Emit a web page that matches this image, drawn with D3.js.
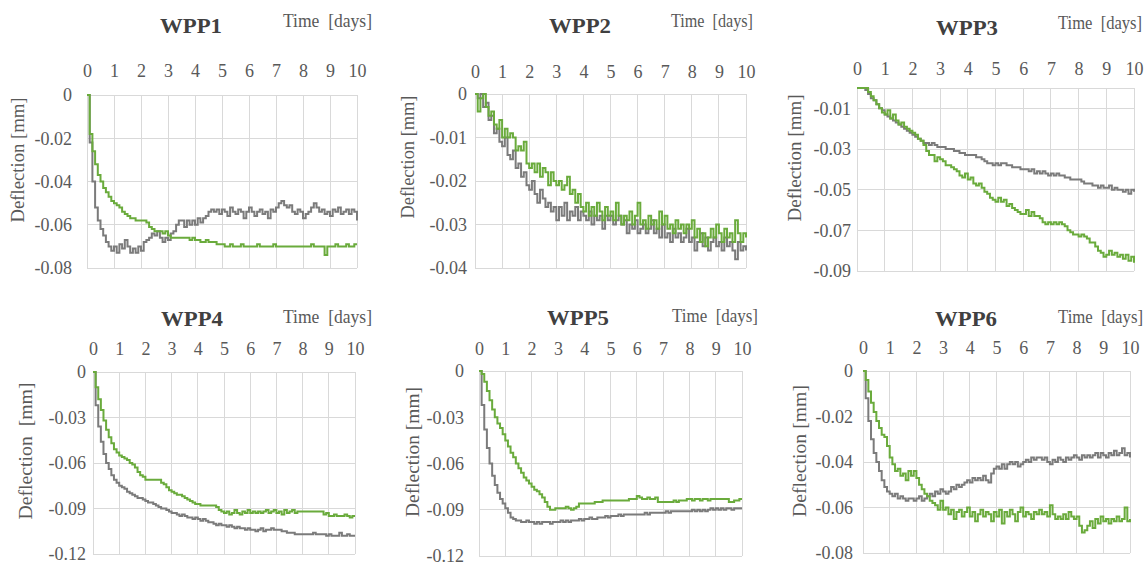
<!DOCTYPE html>
<html><head><meta charset="utf-8">
<script src="https://cdn.jsdelivr.net/npm/d3@7"></script>
<style>
body{margin:0;background:#fff}
svg{display:block}
</style>
</head><body>
<svg id="c" width="1148" height="565"></svg>
<script>
// ---------------- DATA ----------------
const days = [0,.1,.2,.3,.4,.5,.6,.7,.8,.9,1,1.1,1.2,1.3,1.4,1.5,1.6,1.7,1.8,1.9,2,2.1,2.2,2.3,2.4,2.5,2.6,2.7,2.8,2.9,
3,3.1,3.2,3.3,3.4,3.5,3.6,3.7,3.8,3.9,4,4.1,4.2,4.3,4.4,4.5,4.6,4.7,4.8,4.9,5,5.1,5.2,5.3,5.4,5.5,5.6,5.7,5.8,5.9,
6,6.1,6.2,6.3,6.4,6.5,6.6,6.7,6.8,6.9,7,7.1,7.2,7.3,7.4,7.5,7.6,7.7,7.8,7.9,8,8.1,8.2,8.3,8.4,8.5,8.6,8.7,8.8,8.9,
9,9.1,9.2,9.3,9.4,9.5,9.6,9.7,9.8,9.9,10];
const xTicks = [0,1,2,3,4,5,6,7,8,9,10];
const titles = ["WPP1","WPP2","WPP3","WPP4","WPP5","WPP6"];
const yLabels = ["Deflection [mm]","Deflection [mm]","Deflection [mm]","Deflection  [mm]","Deflection [mm]","Deflection [mm]"];
const xLabel = "Time  [days]";

const yTicks1 = [0,-0.02,-0.04,-0.06,-0.08];
const yTicks2 = [0,-0.01,-0.02,-0.03,-0.04];
const yTicks3 = [-0.01,-0.03,-0.05,-0.07,-0.09];
const yTicks4 = [0,-0.03,-0.06,-0.09,-0.12];
const yTicks5 = [0,-0.03,-0.06,-0.09,-0.12];
const yTicks6 = [0,-0.02,-0.04,-0.06,-0.08];
const yTops = [0,0,0,0,0,0];

const green1 = [0,-.018,-.026,-.032,-.037,-.040,-.043,-.045,-.047,-.049,
-.050,-.051,-.052,-.054,-.055,-.056,-.057,-.057,-.058,-.058,
-.058,-.058,-.059,-.061,-.062,-.063,-.063,-.063,-.064,-.063,
-.065,-.066,-.066,-.066,-.066,-.066,-.066,-.066,-.067,-.066,
-.067,-.067,-.068,-.068,-.067,-.068,-.068,-.068,-.069,-.069,
-.069,-.070,-.070,-.069,-.070,-.070,-.070,-.069,-.070,-.070,
-.070,-.070,-.070,-.069,-.070,-.070,-.070,-.070,-.070,-.069,
-.070,-.070,-.070,-.070,-.070,-.070,-.070,-.070,-.070,-.070,
-.070,-.070,-.070,-.069,-.070,-.070,-.070,-.070,-.074,-.070,
-.070,-.070,-.069,-.070,-.070,-.070,-.069,-.070,-.070,-.069,-.069];
const gray1 = [0,-.022,-.040,-.052,-.058,-.062,-.065,-.068,-.070,-.072,
-.070,-.073,-.069,-.071,-.067,-.070,-.073,-.071,-.073,-.070,
-.072,-.068,-.067,-.066,-.064,-.065,-.063,-.066,-.068,-.066,
-.067,-.064,-.063,-.060,-.058,-.058,-.061,-.058,-.060,-.058,
-.060,-.057,-.059,-.057,-.056,-.054,-.053,-.054,-.053,-.055,
-.053,-.054,-.056,-.052,-.054,-.055,-.053,-.054,-.057,-.054,
-.052,-.054,-.056,-.054,-.053,-.055,-.054,-.057,-.053,-.054,
-.052,-.050,-.049,-.051,-.052,-.051,-.054,-.055,-.053,-.054,
-.057,-.055,-.054,-.052,-.050,-.052,-.054,-.053,-.055,-.054,
-.056,-.053,-.054,-.052,-.055,-.054,-.053,-.055,-.053,-.054,-.058];

const green2 = [0,-.004,-.001,0,-.003,-.005,-.004,-.007,-.008,-.006,
-.010,-.008,-.010,-.009,-.010,-.013,-.012,-.013,-.011,-.016,
-.017,-.016,-.018,-.016,-.019,-.017,-.018,-.021,-.018,-.020,
-.021,-.020,-.022,-.021,-.019,-.023,-.022,-.025,-.023,-.026,
-.027,-.025,-.028,-.026,-.028,-.025,-.027,-.029,-.026,-.028,
-.027,-.029,-.025,-.028,-.030,-.028,-.029,-.027,-.030,-.028,
-.025,-.030,-.029,-.031,-.028,-.030,-.029,-.031,-.027,-.030,
-.028,-.031,-.030,-.032,-.029,-.031,-.030,-.032,-.030,-.031,
-.029,-.033,-.031,-.034,-.032,-.035,-.033,-.031,-.033,-.030,
-.032,-.034,-.031,-.033,-.032,-.034,-.029,-.032,-.034,-.032,-.033];
const gray2 = [0,-.001,0,-.003,-.002,-.006,-.005,-.009,-.008,-.011,
-.012,-.010,-.014,-.015,-.013,-.017,-.016,-.019,-.018,-.021,
-.022,-.020,-.023,-.025,-.022,-.024,-.026,-.025,-.027,-.026,
-.029,-.026,-.028,-.025,-.029,-.027,-.028,-.026,-.029,-.027,
-.028,-.029,-.027,-.030,-.028,-.029,-.028,-.031,-.028,-.029,
-.028,-.030,-.029,-.028,-.030,-.029,-.032,-.030,-.031,-.029,
-.032,-.031,-.030,-.032,-.031,-.029,-.032,-.031,-.033,-.030,
-.033,-.032,-.034,-.031,-.033,-.032,-.034,-.033,-.031,-.034,
-.033,-.036,-.034,-.032,-.035,-.033,-.036,-.034,-.033,-.035,
-.034,-.036,-.033,-.035,-.034,-.036,-.038,-.034,-.036,-.035,-.036];

const green3 = [0,0,0,0,-.002,-.004,-.006,-.008,-.010,-.012,
-.013,-.011,-.015,-.013,-.016,-.018,-.017,-.019,-.020,-.021,
-.022,-.023,-.025,-.026,-.028,-.031,-.033,-.033,-.036,-.034,
-.035,-.036,-.038,-.038,-.039,-.040,-.041,-.043,-.044,-.042,
-.045,-.044,-.047,-.048,-.047,-.049,-.051,-.052,-.054,-.055,
-.056,-.054,-.056,-.055,-.058,-.057,-.059,-.060,-.061,-.062,
-.062,-.060,-.063,-.061,-.063,-.063,-.064,-.066,-.067,-.066,
-.067,-.066,-.067,-.066,-.067,-.068,-.070,-.071,-.072,-.072,
-.073,-.072,-.073,-.074,-.076,-.076,-.078,-.080,-.081,-.083,
-.082,-.080,-.082,-.081,-.083,-.082,-.084,-.082,-.085,-.083,-.086];
const gray3 = [0,0,0,-.001,-.003,-.005,-.006,-.008,-.010,-.011,
-.013,-.014,-.015,-.016,-.017,-.018,-.019,-.020,-.021,-.022,
-.023,-.024,-.025,-.026,-.027,-.027,-.028,-.027,-.028,-.029,
-.029,-.029,-.030,-.030,-.030,-.031,-.031,-.032,-.032,-.033,
-.033,-.033,-.033,-.034,-.034,-.035,-.036,-.037,-.037,-.038,
-.037,-.038,-.037,-.037,-.038,-.038,-.039,-.039,-.039,-.040,
-.040,-.040,-.041,-.040,-.042,-.041,-.042,-.041,-.042,-.043,
-.042,-.043,-.042,-.043,-.043,-.044,-.044,-.045,-.045,-.045,
-.045,-.046,-.047,-.047,-.047,-.048,-.048,-.049,-.048,-.049,
-.049,-.048,-.050,-.049,-.050,-.050,-.051,-.050,-.052,-.050,-.051];

const green4 = [0,-.010,-.018,-.025,-.032,-.038,-.043,-.047,-.051,-.053,
-.055,-.056,-.057,-.058,-.060,-.061,-.063,-.066,-.068,-.069,
-.071,-.071,-.071,-.071,-.071,-.071,-.073,-.074,-.076,-.078,
-.079,-.080,-.081,-.081,-.082,-.083,-.084,-.085,-.086,-.087,
-.087,-.088,-.088,-.088,-.088,-.088,-.088,-.089,-.091,-.092,
-.093,-.092,-.094,-.093,-.091,-.093,-.094,-.092,-.093,-.091,
-.093,-.092,-.093,-.092,-.093,-.092,-.091,-.093,-.092,-.091,
-.093,-.092,-.094,-.091,-.093,-.092,-.091,-.093,-.092,-.092,
-.092,-.092,-.092,-.092,-.092,-.092,-.092,-.092,-.094,-.093,
-.095,-.095,-.094,-.095,-.095,-.095,-.094,-.095,-.096,-.095,-.095];
const gray4 = [0,-.022,-.036,-.046,-.054,-.060,-.064,-.068,-.071,-.073,
-.075,-.076,-.077,-.079,-.080,-.081,-.082,-.083,-.083,-.084,
-.085,-.086,-.086,-.087,-.088,-.089,-.090,-.090,-.091,-.092,
-.093,-.093,-.094,-.095,-.094,-.095,-.096,-.096,-.097,-.096,
-.097,-.098,-.097,-.098,-.099,-.099,-.100,-.101,-.100,-.101,
-.101,-.102,-.101,-.102,-.103,-.102,-.103,-.103,-.104,-.103,
-.104,-.104,-.105,-.104,-.103,-.105,-.104,-.104,-.103,-.104,
-.104,-.104,-.105,-.105,-.106,-.106,-.106,-.107,-.107,-.107,
-.107,-.107,-.107,-.107,-.106,-.107,-.107,-.107,-.107,-.108,
-.107,-.108,-.108,-.108,-.106,-.108,-.108,-.107,-.108,-.108,-.108];

const green5 = [0,-.002,-.007,-.013,-.019,-.025,-.030,-.034,-.037,-.041,
-.045,-.049,-.053,-.056,-.060,-.063,-.066,-.069,-.071,-.073,
-.075,-.077,-.078,-.080,-.082,-.085,-.088,-.090,-.090,-.089,
-.089,-.089,-.089,-.088,-.089,-.090,-.089,-.088,-.086,-.086,
-.086,-.086,-.086,-.086,-.085,-.085,-.085,-.084,-.084,-.084,
-.084,-.084,-.084,-.084,-.084,-.084,-.084,-.083,-.083,-.083,
-.081,-.082,-.083,-.083,-.082,-.083,-.083,-.082,-.085,-.085,
-.085,-.085,-.085,-.085,-.084,-.085,-.084,-.084,-.084,-.083,
-.083,-.084,-.083,-.083,-.084,-.083,-.083,-.084,-.083,-.083,
-.083,-.083,-.083,-.083,-.083,-.085,-.085,-.084,-.084,-.083,-.083];
const gray5 = [0,-.022,-.038,-.050,-.060,-.068,-.074,-.079,-.083,-.086,
-.089,-.092,-.095,-.096,-.097,-.097,-.098,-.098,-.097,-.098,
-.098,-.099,-.098,-.099,-.098,-.098,-.098,-.099,-.098,-.098,
-.098,-.097,-.098,-.097,-.098,-.097,-.097,-.097,-.096,-.097,
-.096,-.096,-.095,-.096,-.096,-.095,-.095,-.095,-.094,-.095,
-.094,-.094,-.094,-.093,-.094,-.093,-.093,-.093,-.093,-.093,
-.093,-.093,-.093,-.092,-.093,-.092,-.092,-.092,-.092,-.092,
-.092,-.091,-.092,-.091,-.091,-.091,-.091,-.091,-.091,-.091,
-.091,-.090,-.091,-.090,-.091,-.090,-.091,-.090,-.089,-.090,
-.089,-.090,-.089,-.090,-.089,-.089,-.090,-.089,-.089,-.089,-.089];

const green6 = [0,-.004,-.009,-.014,-.018,-.022,-.025,-.028,-.029,-.033,
-.038,-.041,-.044,-.043,-.046,-.045,-.048,-.044,-.046,-.044,
-.047,-.050,-.052,-.054,-.055,-.057,-.058,-.059,-.061,-.057,
-.061,-.060,-.063,-.061,-.065,-.062,-.061,-.064,-.062,-.060,
-.064,-.062,-.066,-.063,-.061,-.064,-.062,-.063,-.066,-.062,
-.064,-.061,-.067,-.062,-.064,-.061,-.063,-.066,-.062,-.060,
-.064,-.062,-.063,-.065,-.062,-.063,-.061,-.063,-.062,-.064,
-.059,-.063,-.065,-.064,-.065,-.063,-.065,-.062,-.064,-.065,
-.064,-.068,-.071,-.070,-.068,-.066,-.069,-.065,-.067,-.064,
-.066,-.065,-.067,-.065,-.066,-.064,-.066,-.065,-.060,-.066,-.065];
const gray6 = [0,-.012,-.022,-.030,-.036,-.040,-.044,-.048,-.051,-.053,
-.054,-.055,-.054,-.056,-.055,-.056,-.057,-.056,-.056,-.057,
-.056,-.055,-.057,-.056,-.055,-.054,-.055,-.053,-.054,-.052,
-.053,-.054,-.053,-.051,-.052,-.050,-.051,-.050,-.049,-.048,
-.049,-.047,-.048,-.047,-.048,-.046,-.048,-.049,-.045,-.043,
-.042,-.043,-.041,-.043,-.041,-.040,-.041,-.040,-.042,-.041,
-.040,-.039,-.040,-.038,-.039,-.038,-.038,-.039,-.038,-.040,
-.041,-.039,-.040,-.038,-.039,-.040,-.038,-.039,-.038,-.037,
-.038,-.039,-.037,-.038,-.037,-.038,-.037,-.036,-.038,-.036,
-.037,-.038,-.036,-.037,-.035,-.037,-.036,-.034,-.037,-.036,-.038];

// ---------------- LAYOUT ----------------
const layout = [
 {x0:87, x1:357, y0:95, y1:268, tp:18, yp:15, dx:24, dy:160, dl:125, tx:191, ty:33, timeR:372, timeY:27, timeL:89},
 {x0:475,x1:746, y0:94, y1:268, tp:16, yp:8,  dx:414,dy:157, dl:123, tx:580, ty:33, timeR:753, timeY:27, timeL:82},
 {x0:857,x1:1134,y0:88, y1:271, tp:13, yp:6,  dx:801,dy:158, dl:127, tx:967, ty:35, timeR:1142,timeY:29, timeL:84},
 {x0:93, x1:355, y0:372,y1:554, tp:17, yp:7,  dx:32, dy:451, dl:137, tx:192, ty:326, timeR:372, timeY:323, timeL:89},
 {x0:479,x1:742, y0:371,y1:556, tp:16, yp:15, dx:419,dy:452, dl:130, tx:578, ty:325, timeR:758, timeY:322, timeL:86},
 {x0:863,x1:1130,y0:371,y1:553, tp:17, yp:10, dx:806,dy:451, dl:132, tx:966, ty:326, timeR:1143,timeY:323, timeL:85}
];
const yTickSets = [yTicks1,yTicks2,yTicks3,yTicks4,yTicks5,yTicks6];
const greens = [green1,green2,green3,green4,green5,green6];
const grays = [gray1,gray2,gray3,gray4,gray5,gray6];

const FONT = "'Liberation Serif', 'Times New Roman', Times, serif";
const GREEN = "#6aab3c", GRAY = "#7b7b7b", GRID = "#d9d9d9", TXT = "#595959", TITLE = "#404040";

const svg = d3.select("#c");
layout.forEach((L, i) => {
  const yt = yTickSets[i];
  const x = d3.scaleLinear().domain([0, 10]).range([L.x0, L.x1]);
  const y = d3.scaleLinear().domain([d3.min(yt), yTops[i]]).range([L.y1, L.y0]);
  const g = svg.append("g");

  // grid
  g.append("g").selectAll("line").data(xTicks).join("line")
    .attr("x1", d => x(d)).attr("x2", d => x(d)).attr("y1", L.y0).attr("y2", L.y1)
    .attr("stroke", GRID).attr("stroke-width", 1).attr("shape-rendering", "crispEdges");
  g.append("g").selectAll("line").data(yt.concat([yTops[i]])).join("line")
    .attr("x1", L.x0).attr("x2", L.x1).attr("y1", d => y(d)).attr("y2", d => y(d))
    .attr("stroke", GRID).attr("stroke-width", 1).attr("shape-rendering", "crispEdges");

  // axes
  const xa = g.append("g").attr("transform", `translate(0,${L.y0})`)
    .call(d3.axisTop(x).tickValues(xTicks).tickSize(0).tickPadding(L.tp).tickFormat(d3.format("d")));
  xa.select(".domain").remove();
  xa.attr("font-family", FONT).attr("font-size", 18);
  xa.selectAll("text").attr("fill", TXT).style("font-family", FONT).style("font-size", "18px").attr("dy", "0");

  const ya = g.append("g").attr("transform", `translate(${L.x0},0)`)
    .call(d3.axisLeft(y).tickValues(yt).tickSize(0).tickPadding(L.yp)
      .tickFormat(d => d === 0 ? "0" : d.toFixed(2)));
  ya.select(".domain").remove();
  ya.attr("font-family", FONT).attr("font-size", 18);
  ya.selectAll("text").attr("fill", TXT).style("font-family", FONT).style("font-size", "18px").attr("dy", "0.32em");

  // lines
  const line = d3.line().x((d, j) => x(days[j])).y(d => y(d)).curve(d3.curveStepAfter);
  g.append("path").datum(grays[i]).attr("d", line)
    .attr("fill", "none").attr("stroke", GRAY).attr("stroke-width", 2);
  g.append("path").datum(greens[i]).attr("d", line)
    .attr("fill", "none").attr("stroke", GREEN).attr("stroke-width", 2);

  // titles / labels
  g.append("text").text(titles[i]).attr("x", L.tx).attr("y", L.ty)
    .attr("text-anchor", "middle").attr("fill", TITLE)
    .style("font-family", FONT).style("font-size", "20px").style("font-weight", "bold")
    .attr("textLength", 62).attr("lengthAdjust", "spacingAndGlyphs");
  g.append("text").text(xLabel).attr("x", L.timeR).attr("y", L.timeY)
    .attr("text-anchor", "end").attr("fill", TXT)
    .style("font-family", FONT).style("font-size", "18px").style("white-space", "pre")
    .attr("textLength", L.timeL).attr("lengthAdjust", "spacingAndGlyphs");
  g.append("text").text(yLabels[i])
    .attr("transform", `translate(${L.dx},${L.dy}) rotate(-90)`)
    .attr("text-anchor", "middle").attr("fill", TXT)
    .style("font-family", FONT).style("font-size", "18px").style("white-space", "pre")
    .attr("textLength", L.dl).attr("lengthAdjust", "spacingAndGlyphs");
});
</script>
</body></html>
